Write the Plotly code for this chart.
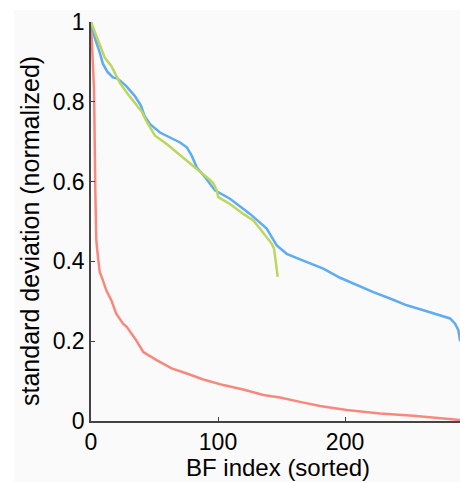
import plotly.graph_objects as go

# BF index (sorted) and normalized standard deviation
blue_x = [0, 3, 6.9, 9.4, 13, 17.3, 21, 27.6, 34.4, 39.4, 42, 46.5, 54.3, 62.2, 70.1, 75.4, 79.3, 83.2, 89.8,
          97.6, 109.4, 125.2, 138.3, 146.2, 154.1, 164.6, 182.9, 196.1, 209.2, 222.3, 235.4, 248.6,
          261.7, 274.8, 282.7, 286.6, 289.2, 290.6]
blue_y = [1.0, 0.96, 0.923, 0.895, 0.875, 0.861, 0.858, 0.84, 0.815, 0.79, 0.765, 0.744, 0.723, 0.711, 0.698,
          0.686, 0.665, 0.636, 0.611, 0.578, 0.557, 0.519, 0.482, 0.44, 0.419, 0.405, 0.382, 0.359,
          0.34, 0.323, 0.307, 0.29, 0.2775, 0.265, 0.257, 0.244, 0.2275, 0.2]

green_x = [0, 4.2, 8.1, 10.8, 16, 19.9, 22.6, 29.1, 34.4, 40, 43.8, 50.4, 59.6, 70.1, 79.3, 85.8, 93.7,
           96.3, 99, 100.2, 109.4, 119.9, 127.8, 133.1, 138.3, 142.3, 144.1, 145.7, 147]
green_y = [1.0, 0.965, 0.932, 0.911, 0.89, 0.865, 0.848, 0.819, 0.798, 0.775, 0.75, 0.715, 0.694, 0.667,
           0.642, 0.625, 0.604, 0.596, 0.578, 0.561, 0.544, 0.519, 0.5025, 0.482, 0.461, 0.444, 0.432,
           0.394, 0.361]

red_x = [0, 1, 2.4, 3.4, 4.2, 5.5, 6.9, 9.4, 12, 16, 19.9, 25.2, 28.1, 34.6, 41.2, 51.7, 63.5, 75.4,
         88.4, 104.2, 119.9, 135.7, 148.8, 164.6, 180.3, 201.3, 227.6, 253.8, 274.8, 290.6]
red_y = [1.0, 0.93, 0.83, 0.578, 0.4525, 0.41, 0.373, 0.3525, 0.3275, 0.3025, 0.269, 0.244, 0.236, 0.207,
         0.173, 0.1525, 0.132, 0.119, 0.104, 0.09, 0.079, 0.065, 0.059, 0.048, 0.0375, 0.0275, 0.019,
         0.013, 0.007, 0.0025]

x_ticks = [0, 100, 200]
y_ticks = [0, 0.2, 0.4, 0.6, 0.8, 1]
y_tick_text = ["0", "0.2", "0.4", "0.6", "0.8", "1"]
x_title = "BF index (sorted)"
y_title = "standard deviation (normalized)"

BLUE = "#5eacf2"
GREEN = "#bcd65e"
RED = "#f7897c"

fig = go.Figure()
fig.add_trace(go.Scatter(x=red_x, y=red_y, mode="lines", line=dict(color=RED, width=2.5)))
fig.add_trace(go.Scatter(x=blue_x, y=blue_y, mode="lines", line=dict(color=BLUE, width=2.5)))
fig.add_trace(go.Scatter(x=green_x, y=green_y, mode="lines", line=dict(color=GREEN, width=2.5)))

W, H = 460, 482
L, T, R = 91, 22, 0
B = H - 421
pw, ph = W - L - R, H - T - B


def px(x_page):
    return (x_page - L) / pw


def py(y_page):
    return (H - B - y_page) / ph


fig.add_shape(type="rect", xref="paper", yref="paper",
              x0=px(14), x1=1.0, y0=py(482), y1=py(10),
              fillcolor="#fafafa", line=dict(width=0), layer="below")

font = "Liberation Sans, Arial, Helvetica, sans-serif"
fig.update_layout(
    width=W, height=H,
    margin=dict(l=L, r=R, t=T, b=B, pad=0, autoexpand=False),
    paper_bgcolor="white", plot_bgcolor="#fafafa",
    showlegend=False,
    font=dict(family=font, size=23, color="black"),
)
fig.add_annotation(text=x_title, xref="paper", yref="paper",
                   x=px(278), y=py(467), xanchor="center", yanchor="middle",
                   showarrow=False, font=dict(size=24))
fig.add_annotation(text=y_title, xref="paper", yref="paper", textangle=-90,
                   x=px(30), y=py(231), xanchor="center", yanchor="middle",
                   showarrow=False, font=dict(size=25))
fig.update_xaxes(range=[0, 290.5], tickvals=x_ticks, ticks="inside", ticklen=4, tickwidth=1.2,
                 tickcolor="#444", showline=True, linecolor="#444", linewidth=1.5,
                 showgrid=False, zeroline=False, tickfont=dict(size=23), automargin=False)
fig.update_yaxes(range=[0, 1], tickvals=y_ticks, ticktext=y_tick_text, ticks="inside", ticklen=4,
                 tickwidth=1.2, tickcolor="#444", showline=True, linecolor="#444", linewidth=1.5,
                 showgrid=False, zeroline=False, tickfont=dict(size=23), automargin=False)

fig.write_html("out.html", default_width=f"{W}px", default_height=f"{H}px",
               config={"displayModeBar": False},
               post_script="document.body.style.margin='0';document.body.style.overflow='hidden';")
